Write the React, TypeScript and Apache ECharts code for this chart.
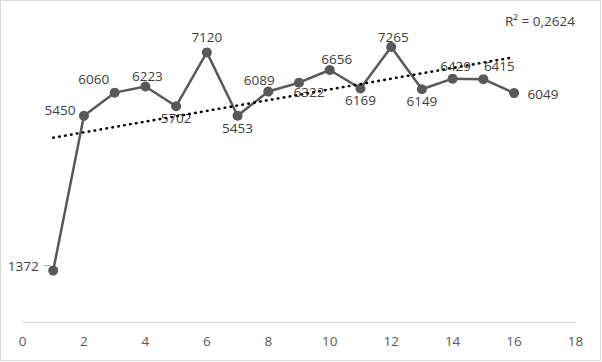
import React, { useEffect, useRef } from "react";
import * as echarts from "echarts";

const xValues = [1, 2, 3, 4, 5, 6, 7, 8, 9, 10, 11, 12, 13, 14, 15, 16];
const yValues = [1372, 5450, 6060, 6223, 5702, 7120, 5453, 6089, 6322, 6656, 6169, 7265, 6149, 6429, 6415, 6049];
const xTicks = [0, 2, 4, 6, 8, 10, 12, 14, 16, 18];
const r2Label = "R² = 0,2624";

// label placement (pixel offset of label centre from the point) – style only
const labelOffsets: [number, number][] = [
  [-24, -5], [-24, -6], [-21, -14], [2, -10], [0, 12], [0, -15], [0, 12], [-9, -12],
  [10, 9.5], [7, -11], [0, 11], [2, -10], [0, 12], [3, -13], [16, -13], [29, 0.5],
];

const FONT = "'Open Sans', sans-serif";

function regression(xs: number[], ys: number[]) {
  const n = xs.length;
  const mx = xs.reduce((a, b) => a + b, 0) / n;
  const my = ys.reduce((a, b) => a + b, 0) / n;
  let sxy = 0, sxx = 0;
  for (let i = 0; i < n; i++) {
    sxy += (xs[i] - mx) * (ys[i] - my);
    sxx += (xs[i] - mx) ** 2;
  }
  const slope = sxy / sxx;
  const intercept = my - slope * mx;
  return { slope, intercept };
}

export default function App() {
  const ref = useRef<HTMLDivElement>(null);
  useEffect(() => {
    if (!ref.current) return;
    const chart = echarts.init(ref.current, null, { renderer: "svg" });
    const { slope, intercept } = regression(xValues, yValues);
    const x0 = xValues[0];
    const x1 = xValues[xValues.length - 1];
    const trend = [
      [x0, intercept + slope * x0],
      [x1, intercept + slope * x1],
    ];
    const data = xValues.map((x, i) => {
      const isFirst = i === 0;
      return {
        value: [x, yValues[i]],
        label: {
          show: true,
          position: "inside",
          offset: labelOffsets[i],
          formatter: isFirst ? "{t|" + yValues[i] + "}{g|}{d|}" : String(yValues[i]),
          rich: isFirst
            ? {
                t: { fontFamily: FONT, fontSize: 13.5, color: "#404040" },
                g: { width: 5, height: 1 },
                d: { width: 7, height: 1, backgroundColor: "#a6a6a6", verticalAlign: "middle" },
              }
            : undefined,
        },
      };
    });
    chart.setOption({
      animation: false,
      backgroundColor: "#ffffff",
      grid: { left: 22.5, right: 26.5, top: 19, bottom: 39.3, containLabel: false },
      xAxis: {
        type: "value",
        min: 0,
        max: 18,
        interval: 2,
        axisLine: { show: true, lineStyle: { color: "#d9d9d9", width: 1 } },
        axisTick: { show: false },
        splitLine: { show: false },
        axisLabel: {
          color: "#595959",
          fontFamily: FONT,
          fontSize: 13.5,
          margin: 11,
          formatter: (v: number) => (xTicks.includes(v) ? String(v) : ""),
        },
      },
      yAxis: {
        type: "value",
        min: 0,
        max: 8000,
        show: false,
        splitLine: { show: false },
      },
      series: [
        {
          type: "line",
          data,
          symbol: "circle",
          symbolSize: 10,
          z: 2,
          lineStyle: { color: "#595959", width: 2.5 },
          itemStyle: { color: "#595959" },
          label: { fontFamily: FONT, fontSize: 13.5, color: "#404040" },
          emphasis: { disabled: true },
        },
        {
          type: "line",
          data: trend,
          symbol: "none",
          z: 3,
          lineStyle: { color: "#000000", width: 2.5, type: [0.6, 5.4], cap: "round" },
          emphasis: { disabled: true },
        },
      ],
      graphic: [
        {
          type: "text",
          left: 505,
          top: 14,
          style: {
            text: r2Label,
            fontFamily: FONT,
            fontSize: 13.5,
            fill: "#404040",
          },
        },
      ],
    });
    return () => chart.dispose();
  }, []);
  return (
    <div style={{ position: "fixed", left: 0, top: 0, width: 602, height: 362, background: "#fff" }}>
      <div ref={ref} style={{ position: "absolute", left: 0, top: 0, width: 602, height: 362 }} />
      <div
        style={{
          position: "absolute",
          left: 0,
          top: 0,
          width: 601,
          height: 361,
          boxSizing: "border-box",
          border: "1px solid #d9d9d9",
          pointerEvents: "none",
        }}
      />
    </div>
  );
}
